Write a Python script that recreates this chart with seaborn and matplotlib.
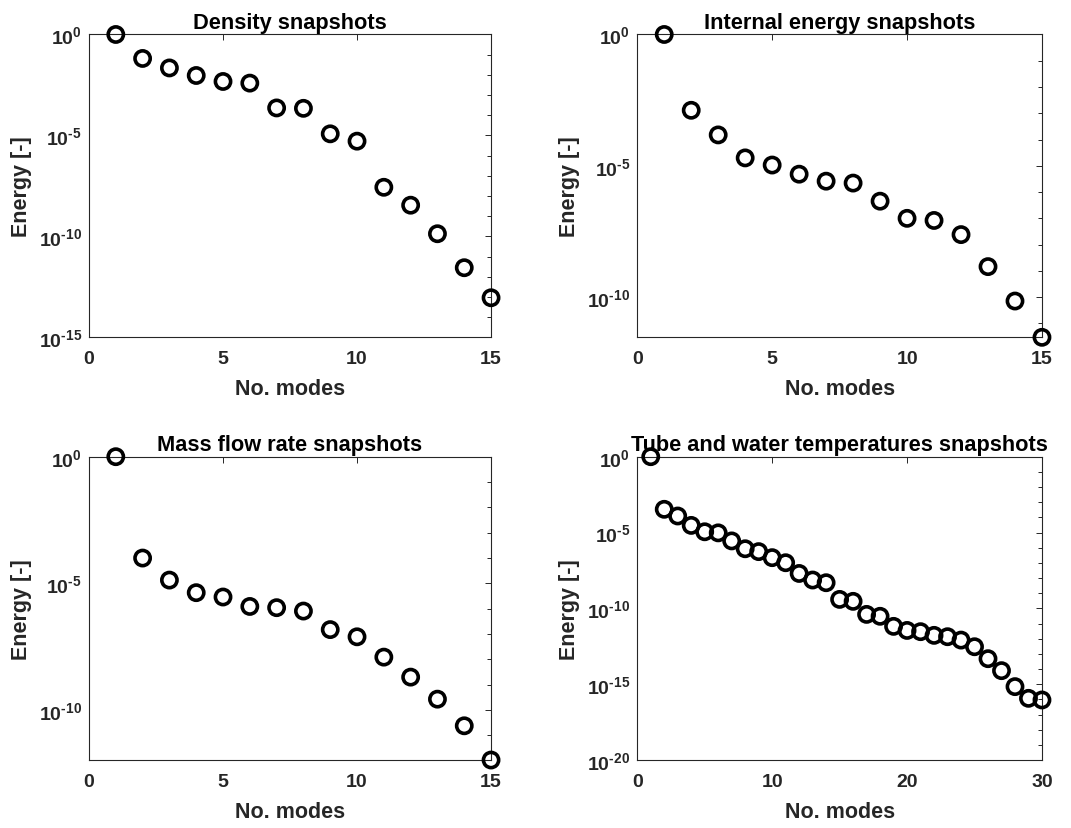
import matplotlib
matplotlib.use("Agg")
import matplotlib.pyplot as plt
import matplotlib.ticker as mticker
import seaborn as sns

# Energieanteile der POD-Moden
modes_15 = list(range(1, 16))
modes_30 = list(range(1, 31))

density_energy = [1.0, 6.5e-2, 2.2e-2, 9.3e-3, 4.7e-3, 3.9e-3, 2.3e-4, 2.2e-4,
                  1.2e-5, 5.2e-6, 2.7e-8, 3.5e-9, 1.35e-10, 2.8e-12, 9.1e-14]
internal_energy = [1.0, 1.3e-3, 1.5e-4, 2.0e-5, 1.07e-5, 4.8e-6, 2.6e-6, 2.2e-6,
                   4.5e-7, 1.0e-7, 8.3e-8, 2.4e-8, 1.45e-9, 7.1e-11, 2.95e-12]
massflow_energy = [1.0, 1.0e-4, 1.35e-5, 4.3e-6, 2.9e-6, 1.23e-6, 1.1e-6, 8.1e-7,
                   1.5e-7, 7.8e-8, 1.23e-8, 2.0e-9, 2.7e-10, 2.4e-11, 1.07e-12]
temperature_energy = [1.0, 3.4e-4, 1.23e-4, 2.95e-5, 1.12e-5, 9.5e-6, 2.8e-6, 8.5e-7,
                      5.5e-7, 2.2e-7, 1.02e-7, 2.0e-8, 7.4e-9, 4.9e-9, 3.9e-10,
                      2.9e-10, 4.0e-11, 3.0e-11, 6.5e-12, 3.5e-12, 2.9e-12, 1.66e-12,
                      1.35e-12, 8.1e-13, 2.95e-13, 4.8e-14, 7.8e-15, 6.9e-16,
                      1.17e-16, 9.1e-17]

titles = ["Density snapshots", "Internal energy snapshots",
          "Mass flow rate snapshots", "Tube and water temperatures snapshots"]
x_ticks = [[0, 5, 10, 15], [0, 5, 10, 15], [0, 5, 10, 15], [0, 10, 20, 30]]
y_exps = [[0, -5, -10, -15], [0, -5, -10], [0, -5, -10], [0, -5, -10, -15, -20]]
y_limits = [(1e-15, 1.0), (min(internal_energy), 1.0),
            (min(massflow_energy), 1.0), (1e-20, 1.0)]

sns.set_style("white")
plt.rcParams["font.family"] = ["Liberation Sans", "DejaVu Sans"]
plt.rcParams["font.weight"] = "bold"
plt.rcParams["mathtext.fontset"] = "custom"
plt.rcParams["mathtext.rm"] = "Liberation Sans:bold"
plt.rcParams["mathtext.it"] = "Liberation Sans:bold"
plt.rcParams["mathtext.bf"] = "Liberation Sans:bold"
plt.rcParams["mathtext.default"] = "rm"

fig = plt.figure(figsize=(10.71, 8.29), dpi=100)
positions = [[0.0831, 0.5919, 0.3754, 0.3653],
             [0.5950, 0.5919, 0.3779, 0.3653],
             [0.0831, 0.0820, 0.3754, 0.3659],
             [0.5950, 0.0820, 0.3779, 0.3659]]
panels = [(modes_15, density_energy), (modes_15, internal_energy),
          (modes_15, massflow_energy), (modes_30, temperature_energy)]


def pow_label(e):
    # MATLAB-Stil: Bindestrich statt Minuszeichen im Exponenten
    return r"$10^{\text{%d}}$" % e


axis_grey = "#262626"
for i, (x, y) in enumerate(panels):
    ax = fig.add_axes(positions[i])
    sns.scatterplot(x=x, y=y, ax=ax, marker="o", s=120, facecolor="none",
                    edgecolor="black", linewidth=2.6, clip_on=False, zorder=3)
    ax.set_yscale("log")
    ax.set_xlim(x_ticks[i][0], x_ticks[i][-1])
    ax.set_ylim(*y_limits[i])
    ax.set_xticks(x_ticks[i])
    ax.set_xticklabels([str(t) for t in x_ticks[i]])
    ax.set_yticks([10.0 ** e for e in y_exps[i]])
    ax.set_yticklabels([pow_label(e) for e in y_exps[i]])
    ax.yaxis.set_minor_locator(mticker.LogLocator(base=10, subs=[1.0], numticks=50))
    ax.yaxis.set_minor_formatter(mticker.NullFormatter())
    ax.tick_params(axis="both", which="both", direction="in", top=True, right=True,
                   color=axis_grey, width=0.7, labelcolor=axis_grey, labelsize=14)
    ax.tick_params(axis="both", which="major", length=4)
    ax.tick_params(axis="y", which="minor", length=3)
    ax.tick_params(axis="x", which="major", pad=9)
    ax.tick_params(axis="y", which="major", pad=5)
    for sp in ax.spines.values():
        sp.set_color(axis_grey)
        sp.set_linewidth(0.8)
    ax.set_title(titles[i], fontsize=15.7, fontweight="bold", color="black", pad=5)
    ax.set_xlabel("No. modes", fontsize=15.5, fontweight="bold",
                  color=axis_grey, labelpad=8)
    ax.set_ylabel("Energy [-]", fontsize=15.5, fontweight="bold",
                  color=axis_grey, labelpad=5)
    ax.grid(False)

fig.savefig("out.png", dpi=100)
